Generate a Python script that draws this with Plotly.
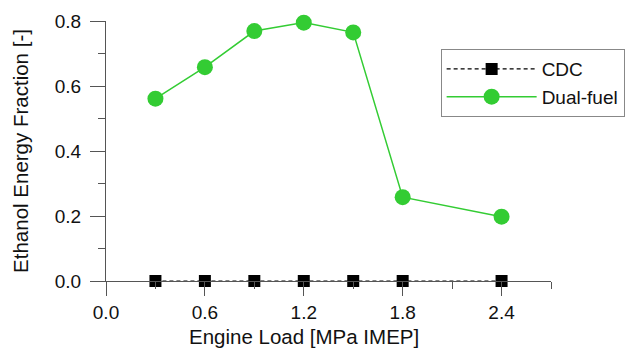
import plotly.graph_objects as go

loads = [0.3, 0.6, 0.9, 1.2, 1.5, 1.8, 2.4]
cdc = [0, 0, 0, 0, 0, 0, 0]
dual_fuel = [0.561, 0.658, 0.769, 0.795, 0.765, 0.258, 0.198]
x_ticks = [0.0, 0.6, 1.2, 1.8, 2.4]
y_ticks = [0.0, 0.2, 0.4, 0.6, 0.8]

green = "rgb(51,204,51)"
font = "Liberation Sans, Arial, sans-serif"
txt = "#111"

fig = go.Figure()
fig.add_trace(go.Scatter(
    x=loads, y=cdc, name="CDC", mode="lines+markers",
    line=dict(color="black", width=1.2, dash="4px,3px"),
    marker=dict(symbol="square", size=12, color="black"),
    cliponaxis=False,
))
fig.add_trace(go.Scatter(
    x=loads, y=dual_fuel, name="Dual-fuel", mode="lines+markers",
    line=dict(color=green, width=1.5),
    marker=dict(symbol="circle", size=16, color=green),
    cliponaxis=False,
))

fig.update_layout(
    width=630, height=350,
    margin=dict(l=106, r=79, t=21, b=69, autoexpand=False),
    paper_bgcolor="white", plot_bgcolor="white",
    font=dict(family=font, size=19, color=txt),
    legend=dict(
        x=0.752, y=0.892, xanchor="left", yanchor="top",
        bordercolor="#888", borderwidth=1, bgcolor="white",
        font=dict(size=19, color=txt),
        tracegroupgap=0, itemwidth=90,
    ),
    xaxis=dict(
        range=[0, 2.7], tickvals=x_ticks, ticktext=[f"{v:.1f}" for v in x_ticks],
        showgrid=False, zeroline=False, showline=True, linecolor="#555", linewidth=1,
        ticks="outside", ticklen=14, tickcolor="#555", tickwidth=1,
        tickfont=dict(size=19, color=txt),
        minor=dict(dtick=0.3, tick0=0, ticks="outside", ticklen=7, tickcolor="#555", showgrid=False),
        automargin=False,
    ),
    yaxis=dict(
        range=[0, 0.8], tickvals=y_ticks, ticktext=[f"{v:.1f}" for v in y_ticks],
        showgrid=False, zeroline=False, showline=True, linecolor="#555", linewidth=1,
        ticks="outside", ticklen=15, tickcolor="#555", tickwidth=1,
        tickfont=dict(size=19, color=txt), ticklabelstandoff=5,
        minor=dict(dtick=0.1, tick0=0, ticks="outside", ticklen=7, tickcolor="#555", showgrid=False),
        title=dict(text="Ethanol Energy Fraction [-]", standoff=20, font=dict(size=20.5, color=txt)),
        automargin=False,
    ),
    annotations=[dict(
        text="Engine Load [MPa IMEP]", xref="paper", yref="paper",
        x=(304 - 106) / 445.5, y=(281 - 336) / 260, xanchor="center", yanchor="middle",
        showarrow=False, font=dict(size=20.5, color=txt),
    )],
)

fig.write_html("out.html")
